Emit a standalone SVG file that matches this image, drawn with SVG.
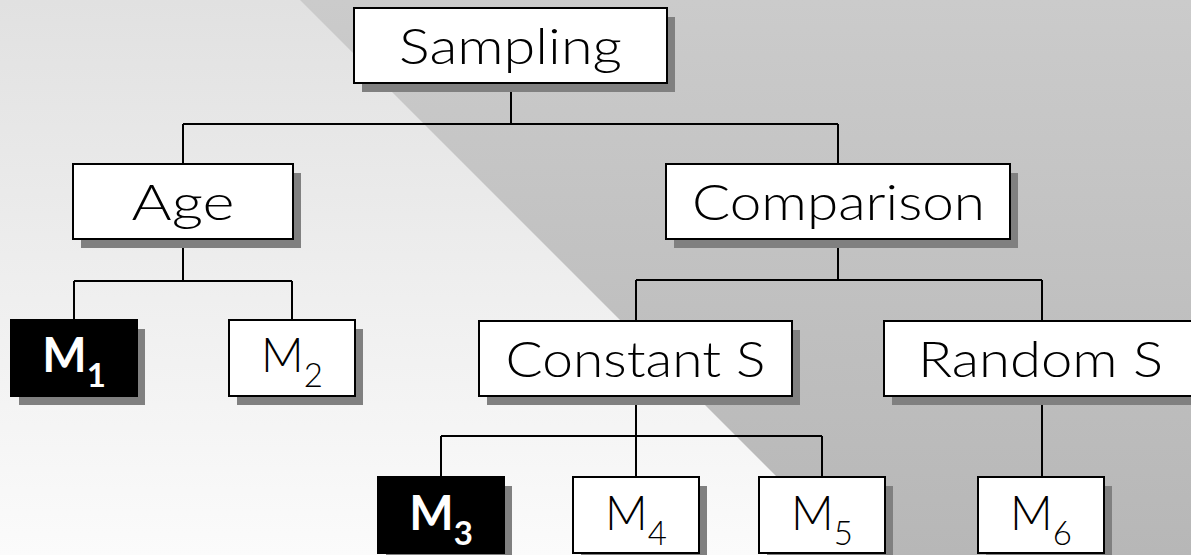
<svg xmlns="http://www.w3.org/2000/svg" width="1191" height="555" viewBox="0 0 1191 555">
<defs>
<linearGradient id="gl" x1="0" y1="0" x2="0" y2="1"><stop offset="0" stop-color="#e1e1e1"/><stop offset="1" stop-color="#fbfbfb"/></linearGradient>
<linearGradient id="gr" x1="0" y1="0" x2="0" y2="1"><stop offset="0" stop-color="#cbcbcb"/><stop offset="1" stop-color="#b7b7b7"/></linearGradient>
<style>
.sh{fill:#808080}
.bx{fill:#fff;stroke:#000;stroke-width:2}
.bk{fill:#000;stroke:#000;stroke-width:2}
.t{font-family:Lato,"Liberation Sans",Arial,sans-serif;font-weight:300;font-size:50px;fill:#000;text-anchor:middle}
.m{font-family:Lato,"Liberation Sans",Arial,sans-serif;font-weight:300;font-size:47px;fill:#000;text-anchor:middle}
.mb{font-family:Lato,"Liberation Sans",Arial,sans-serif;font-size:47px;font-weight:bold;fill:#fff;text-anchor:middle}
.c{fill:none;stroke:#000;stroke-width:2}
</style>
</defs>
<rect x="0" y="0" width="1191" height="555" fill="url(#gl)"/>
<polygon points="300,0 1191,0 1191,555 855,555" fill="url(#gr)"/>
<g id="connectors" class="c">
<path d="M511,83V124M183,124H838M183,124V164M838,124V164"/>
<path d="M183,239V281M74,281H292M74,281V320M292,281V320"/>
<path d="M838,239V280M636,280H1042M636,280V321M1042,280V321"/>
<path d="M636,396V436M441,436H822M441,436V477M636,436V477M822,436V477"/>
<path d="M1042,396V477"/>
</g>
<g id="sampling"><rect class="sh" x="362" y="17" width="313" height="75"/><rect class="bx" x="354" y="8" width="313" height="75"/><text class="t" x="510.5" y="63.5" textLength="223" lengthAdjust="spacingAndGlyphs">Sampling</text></g>
<g id="age"><rect class="sh" x="81" y="173" width="220" height="75"/><rect class="bx" x="73" y="164" width="220" height="75"/><text class="t" x="183" y="219.5" textLength="103" lengthAdjust="spacingAndGlyphs">Age</text></g>
<g id="comparison"><rect class="sh" x="674" y="173" width="344" height="75"/><rect class="bx" x="666" y="164" width="344" height="75"/><text class="t" x="838.5" y="219.5" textLength="293" lengthAdjust="spacingAndGlyphs">Comparison</text></g>
<g id="constant"><rect class="sh" x="487" y="330" width="313" height="75"/><rect class="bx" x="479" y="321" width="313" height="75"/><text class="t" x="635.5" y="376.5" textLength="260" lengthAdjust="spacingAndGlyphs">Constant S</text></g>
<g id="random"><rect class="sh" x="892" y="330" width="316" height="75"/><rect class="bx" x="884" y="321" width="316" height="75"/><text class="t" x="1040.5" y="376.5" textLength="245" lengthAdjust="spacingAndGlyphs">Random S</text></g>
<g id="m1"><rect class="sh" x="19" y="329" width="126" height="76"/><rect class="bk" x="11" y="320" width="126" height="76"/><text class="mb" x="74" y="372">M<tspan dy="15" font-size="33">1</tspan></text></g>
<g id="m2"><rect class="sh" x="237" y="329" width="126" height="76"/><rect class="bx" x="229" y="320" width="126" height="76"/><text class="m" x="292" y="372">M<tspan dy="15" font-size="33">2</tspan></text></g>
<g id="m3"><rect class="sh" x="386" y="486" width="126" height="76"/><rect class="bk" x="378" y="477" width="126" height="76"/><text class="mb" x="441" y="530">M<tspan dy="15" font-size="33">3</tspan></text></g>
<g id="m4"><rect class="sh" x="581" y="486" width="126" height="76"/><rect class="bx" x="573" y="477" width="126" height="76"/><text class="m" x="636" y="530">M<tspan dy="15" font-size="33">4</tspan></text></g>
<g id="m5"><rect class="sh" x="767" y="486" width="126" height="76"/><rect class="bx" x="759" y="477" width="126" height="76"/><text class="m" x="822" y="530">M<tspan dy="15" font-size="33">5</tspan></text></g>
<g id="m6"><rect class="sh" x="986" y="486" width="126" height="76"/><rect class="bx" x="978" y="477" width="126" height="76"/><text class="m" x="1041" y="530">M<tspan dy="15" font-size="33">6</tspan></text></g>
</svg>
